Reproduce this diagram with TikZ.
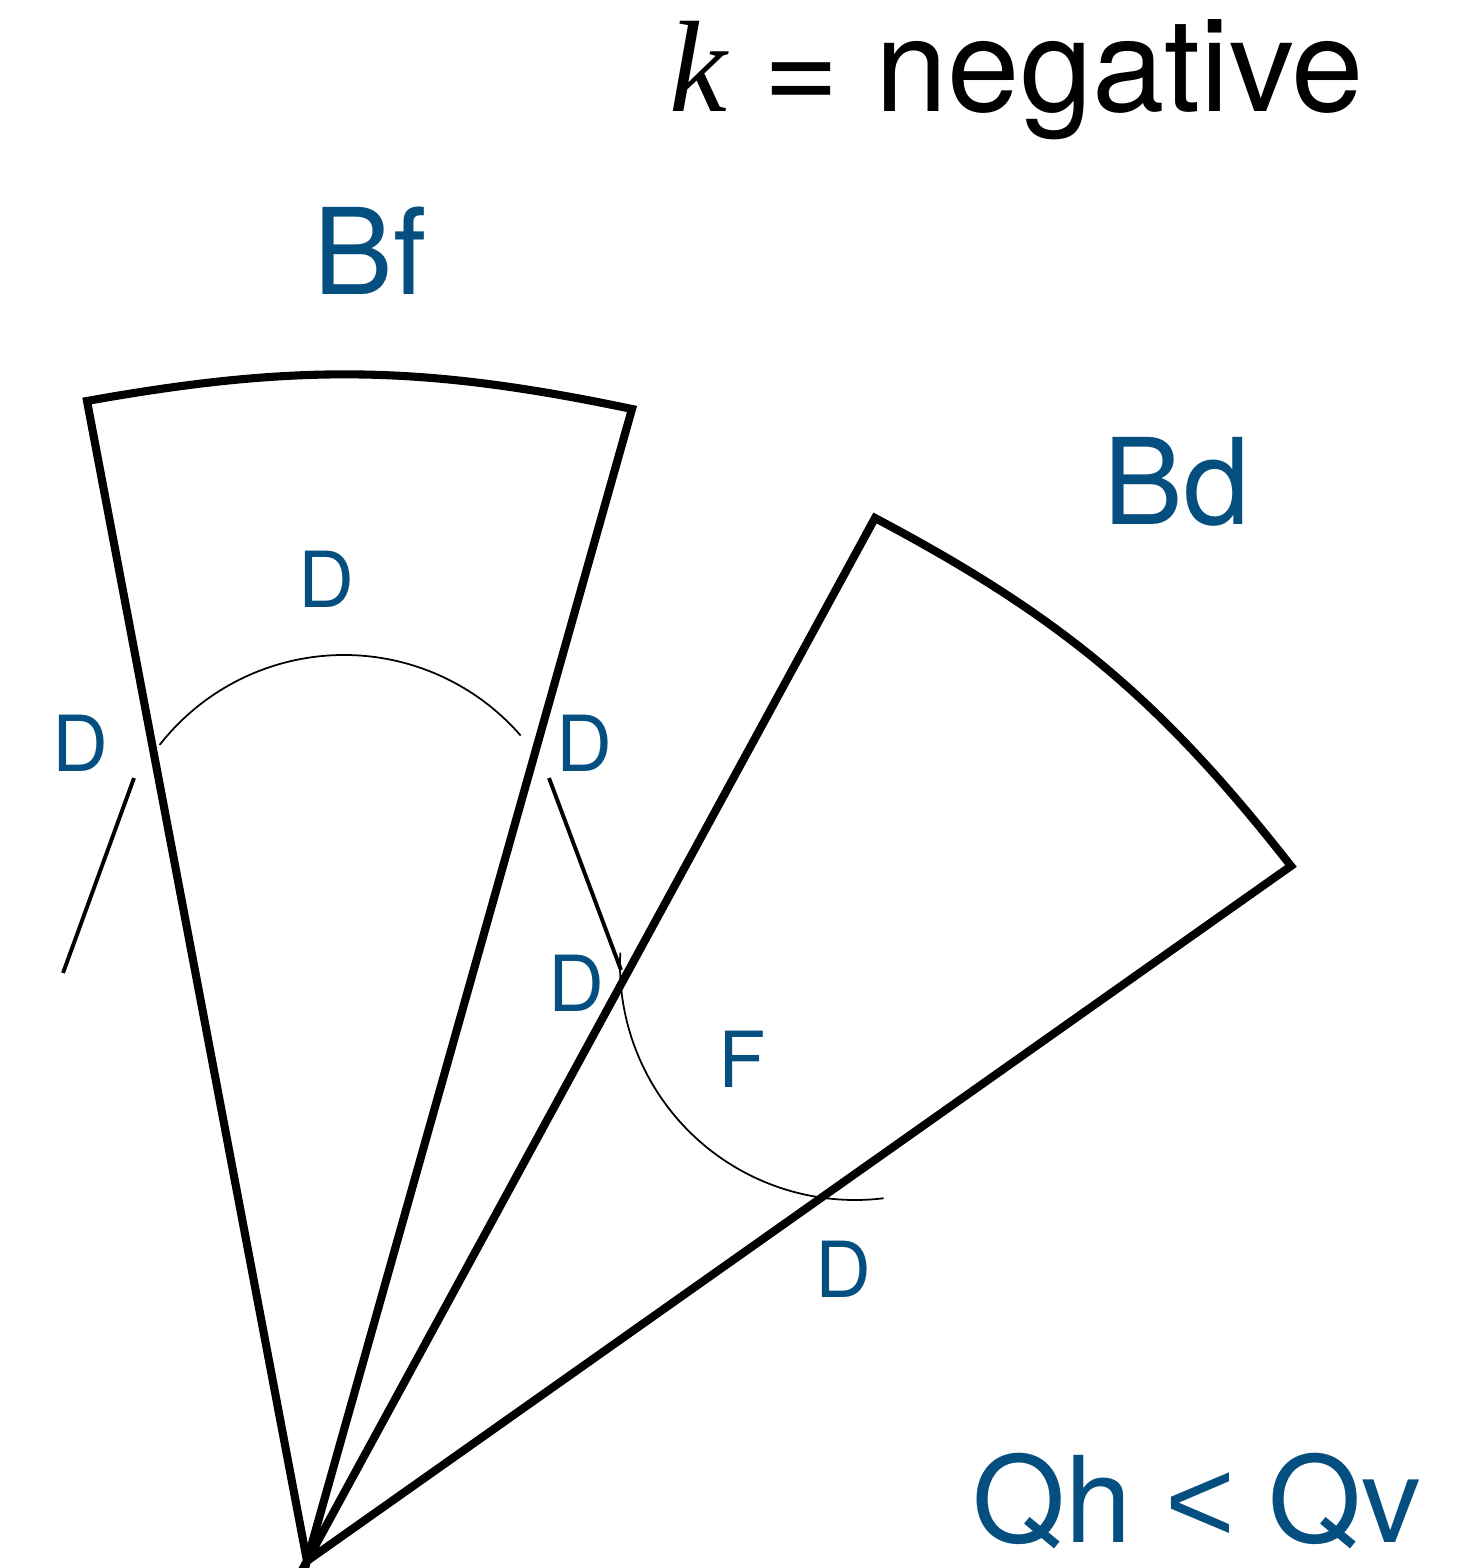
\documentclass[tikz,border=0pt]{standalone}
\usepackage{fontspec}
\setmainfont{TeX Gyre Heros}
\newfontfamily\kfont{Liberation Serif}
\newfontfamily\relfont{Liberation Sans}
\usepackage{xcolor}
\definecolor{qblue}{RGB}{4,79,128}

\begin{document}
\begin{tikzpicture}[x=0.01cm, y=0.01cm,
  wedge/.style={draw, line width=2.3pt, line join=miter},
  guide/.style={draw, line width=1.1pt},
  swing/.style={draw, line width=0.5pt},
  lbl/.style={text=qblue, font=\fontsize{22}{26}\selectfont, anchor=base, inner sep=0pt},
  sectorlbl/.style={text=qblue, font=\fontsize{34}{40}\selectfont, anchor=base, inner sep=0pt},
  title/.style={font=\fontsize{37}{42}\selectfont, anchor=base, inner sep=0pt},
]
  \useasboundingbox (0,0) rectangle (1480,1568);

  % ===== Corners =====
  \coordinate (apex) at (307, 7);
  \coordinate (bfl)  at (87, 1167);
  \coordinate (bfr)  at (632, 1159);
  \coordinate (bdl)  at (875, 1050);
  \coordinate (bdr)  at (1291, 702);
  \coordinate (cf)   at (344, 679);
  \coordinate (cd)   at (855, 603);

  % ===== Sectors =====
  \draw[wedge] (apex) -- (bfl) to[bend left=11] (bfr) -- cycle;
  \draw[wedge] (apex) -- (bdl) to[bend left=12] (bdr) -- cycle;

  % ===== Swing arcs and guides =====
  \draw[swing] (cf) ++(142:234) arc[start angle=142, end angle=41, radius=234];
  \draw[swing] (cd) ++(177:235) arc[start angle=177, end angle=277, radius=235];
  \draw[guide] (134, 790) -- (63, 595);
  \draw[guide] (549, 790) -- (621, 598);

  % ===== Labels =====
  \node[title] (ttl) at (1017, 1456) {{\kfont\itshape k} = negative};
  \node[sectorlbl] (bf) at (370, 1273) {Bf};
  \node[sectorlbl] (bd) at (1177, 1043) {Bd};
  \node[sectorlbl] (cmp) at (1197, 25) {Qh {\relfont <} Qv};

  \node[lbl] (dtop) at (326, 960) {D};
  \node[lbl] (dl)   at (80, 796)  {D};
  \node[lbl] (dr)   at (584, 796) {D};
  \node[lbl] (dm)   at (576, 556) {D};
  \node[lbl] (db)   at (843, 270) {D};
  \node[lbl] (f)    at (742, 481) {F};

\end{tikzpicture}
\end{document}
